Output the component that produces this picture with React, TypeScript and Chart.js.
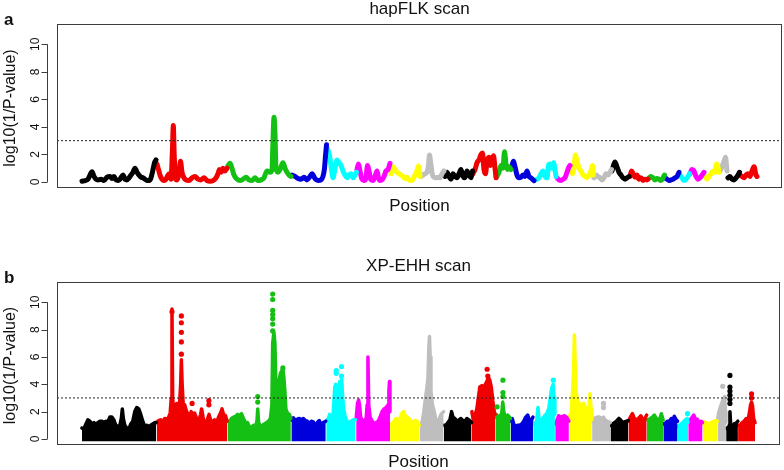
import React, { useEffect, useRef } from 'react';
import { Chart, registerables } from 'chart.js';

Chart.register(...registerables);

// Chromosome boundaries along the genome (position units), 26 autosomes
const chromBounds = [82, 157, 228, 292, 327, 357, 391, 420.5, 445, 473, 496.5, 512, 534.5, 556.5, 570.5, 593.5, 612, 630, 648.5, 665, 679.5, 690, 704.5, 719.5, 728, 740, 757];
const chromPalette = ['#000000', '#F00000', '#14C014', '#0000DD', '#00FFFF', '#FF00FF', '#FFFF00', '#BEBEBE'];
const yTicks = [0, 2, 4, 6, 8, 10];
const threshold = 3;
const xRange = [57, 782];
const yRange = [-0.44, 11.48];

// hapFLK scan: [position, log10(1/P)]
const hapflkPoints: [number, number][] = [
  [82, 0.05], [85, 0.1], [88, 0.2], [90, 0.5], [92, 0.75], [94, 0.4], [96, 0.2], [98, 0.15], [101, 0.2], [104, 0.1], [107, 0.35], [110, 0.4], [112, 0.25], [114, 0.4], [116, 0.15], [118, 0.1], [120, 0.2], [123, 0.5], [125, 0.2], [127, 0.15], [129, 0.3], [131, 0.5], [133, 0.7], [135, 1.0], [137, 0.7], [139, 0.5], [141, 0.35], [143, 0.3], [145, 0.2], [147, 0.1], [149, 0.1], [151, 0.3], [153, 0.9], [154.5, 1.4], [156, 1.6],
  [157, 1.3], [158.5, 0.9], [160, 0.5], [162, 0.2], [164, 0.1], [166, 0.2], [168, 0.5], [169.5, 0.6], [171, 0.2], [172.5, 2.5], [173.3, 4.1], [174.2, 2.0], [175.5, 0.2], [177, 0.15], [179, 0.6], [180.5, 1.5], [182, 0.7], [184, 0.3], [186, 0.15], [189, 0.1], [192, 0.3], [195, 0.4], [198, 0.2], [201, 0.15], [204, 0.3], [207, 0.1], [210, 0.05], [213, 0.1], [216, 0.3], [218, 0.6], [219.5, 0.9], [221, 0.7], [223, 1.0], [225, 0.8], [227, 1.0],
  [228, 1.2], [230, 1.35], [232, 1.0], [234, 0.5], [237, 0.2], [240, 0.1], [243, 0.2], [246, 0.35], [249, 0.15], [252, 0.1], [255, 0.3], [258, 0.1], [261, 0.15], [264, 0.3], [267, 0.8], [270, 0.7], [272, 0.9], [273, 3.0], [274, 4.7], [275, 3.5], [276, 1.0], [278, 0.7], [280, 0.9], [283, 1.4], [285, 1.0], [287, 0.7], [289, 0.5], [291, 0.4],
  [292, 0.5], [295, 0.4], [298, 0.25], [301, 0.2], [304, 0.35], [307, 0.15], [310, 0.4], [312, 0.6], [315, 0.25], [318, 0.1], [321, 0.15], [323, 0.4], [324.5, 1.0], [325.5, 1.9], [326.5, 2.7],
  [327, 2.5], [328.5, 2.2], [330, 1.7], [331.5, 0.9], [333, 0.3], [335, 1.0], [337, 1.6], [339, 1.4], [341, 1.2], [343, 0.8], [345, 0.5], [347, 0.3], [349, 0.5], [351, 0.6], [353, 0.3], [355, 0.5], [356.5, 0.7],
  [357, 0.9], [358.5, 1.3], [360, 0.8], [362, 0.2], [364, 0.1], [366, 0.3], [367.5, 1.2], [369, 0.8], [371, 0.15], [373, 0.1], [375, 0.4], [377, 0.8], [378.5, 0.3], [380, 0.1], [382, 0.15], [384, 0.4], [386, 0.8], [388, 0.9], [390, 1.35],
  [391, 0.6], [393, 1.1], [395, 0.9], [397, 0.7], [399, 0.6], [401, 0.5], [403, 0.4], [405, 0.25], [407, 0.35], [409, 0.15], [411, 0.1], [413, 0.2], [415, 0.5], [417, 0.8], [418.5, 1.15], [420, 0.4],
  [421, 0.4], [423, 0.5], [425, 0.6], [427, 0.7], [428.5, 1.2], [429.5, 1.95], [431, 1.2], [432.5, 0.5], [434, 0.35], [436, 0.3], [438, 0.35], [440, 0.3], [442, 0.6], [444, 0.8],
  [445, 0.4], [447, 0.7], [449, 0.4], [451, 0.2], [453, 0.6], [455, 0.4], [457, 0.3], [459, 0.6], [461, 0.9], [463, 0.4], [465, 0.3], [467, 0.8], [469, 0.5], [471, 0.3], [472.5, 0.8],
  [473, 0.6], [475, 0.9], [477, 1.4], [479, 1.6], [481, 2.0], [482.5, 2.1], [484, 0.9], [485.5, 0.6], [487, 1.5], [489, 1.8], [490.5, 1.2], [492, 1.6], [493.5, 1.9], [495, 1.0], [496, 0.3],
  [497, 0.4], [499, 0.7], [501, 1.2], [503, 1.0], [504.5, 2.2], [506, 1.3], [507.5, 0.9], [509, 1.1], [511, 0.9],
  [512, 1.2], [513.5, 1.5], [515, 1.1], [517, 0.5], [519, 0.3], [521, 0.35], [523, 0.5], [525, 0.4], [527, 0.8], [529, 0.4], [531, 0.3], [533, 0.15], [534, 0.1],
  [535, 0.15], [537, 0.2], [539, 0.3], [541, 0.6], [543, 0.8], [545, 0.4], [547, 0.3], [548.5, 1.2], [550, 1.3], [552, 1.0], [553.5, 1.4], [555, 0.9], [556, 0.4],
  [557, 0.3], [559, 0.15], [561, 0.1], [563, 0.2], [565, 0.3], [567, 0.7], [569, 1.1], [570, 1.2],
  [571, 0.9], [572.5, 0.6], [574, 1.1], [575.5, 1.95], [577, 1.5], [579, 1.0], [581, 0.8], [583, 0.5], [585, 0.4], [587, 0.3], [589, 0.5], [591, 0.8], [592.5, 1.2], [593.3, 0.5],
  [594, 0.3], [596, 0.5], [598, 0.4], [600, 0.3], [602, 0.15], [604, 0.3], [606, 0.6], [608, 0.5], [610, 0.7], [611.5, 0.9],
  [612, 0.8], [613.5, 1.2], [615, 1.45], [617, 1.1], [619, 0.7], [621, 0.5], [623, 0.3], [625, 0.2], [627, 0.3], [629, 0.4],
  [630, 0.4], [631.5, 0.8], [633, 0.6], [635, 0.35], [637, 0.5], [639, 0.2], [641, 0.3], [643, 0.1], [645, 0.2], [647, 0.15], [648, 0.2],
  [649, 0.3], [651, 0.4], [653, 0.3], [655, 0.15], [657, 0.25], [659, 0.2], [661, 0.1], [663, 0.3], [664.5, 0.5],
  [665, 0.3], [667, 0.2], [669, 0.1], [671, 0.15], [673, 0.2], [675, 0.3], [677, 0.4], [679, 0.7],
  [680, 0.5], [682, 0.3], [684, 0.1], [686, 0.2], [688, 0.4], [689.5, 0.6],
  [690, 0.6], [692, 0.9], [694, 0.8], [696, 0.4], [698, 0.2], [700, 0.3], [702, 0.5], [704, 0.7],
  [705, 0.4], [707, 0.2], [709, 0.4], [711, 0.6], [713, 0.8], [715, 0.7], [716.5, 1.3], [718, 1.1], [719, 0.7],
  [720, 0.8], [722, 1.1], [724, 1.5], [725.5, 1.8], [727, 0.8],
  [728, 0.3], [730, 0.4], [732, 0.2], [734, 0.15], [736, 0.3], [738, 0.5], [739.5, 0.7],
  [740, 0.5], [742, 0.4], [744, 0.3], [746, 0.5], [748, 0.6], [750, 0.4], [752, 0.8], [754, 1.1], [756, 0.5], [757, 0.4],
];

// XP-EHH scan: upper outline of the dense SNP cloud, [position, log10(1/P)]
const xpehhEnvelope: [number, number][] = [
  [82, 0.8], [84, 0.75], [86, 1.1], [88, 1.4], [90, 1.3], [92, 1.1], [94, 1.2], [96, 1.05], [98, 1.2], [100, 1.3], [102, 1.3], [104, 1.2], [106, 1.3], [108, 1.25], [110, 1.6], [112, 1.6], [114, 1.4], [116, 1.0], [118, 0.9], [120, 1.0], [121.5, 1.5], [122.5, 2.2], [123.5, 1.5], [125, 1.0], [127, 0.8], [129, 0.7], [131, 1.1], [133, 1.3], [135, 2.0], [137, 2.3], [139, 2.2], [141, 1.8], [143, 1.3], [145, 0.9], [147, 1.0], [149, 0.9], [151, 1.0], [153, 1.1], [155, 1.2], [156.5, 1.2],
  [157, 1.2], [159, 1.35], [161, 1.4], [163, 1.25], [165, 1.5], [167, 1.45], [169, 1.6], [170.5, 1.9], [171.6, 3.0], [172.3, 9.5], [173, 3.0], [174, 2.0], [175.5, 2.2], [177, 2.6], [178.5, 2.4], [180, 2.7], [181, 4.0], [181.7, 5.8], [182.5, 4.0], [183.5, 2.6], [185, 2.5], [187, 2.0], [188.5, 1.8], [190, 1.6], [191.5, 2.0], [193, 1.8], [195, 1.9], [197, 1.5], [199, 1.3], [201, 1.8], [202, 2.2], [203.5, 1.6], [205, 1.2], [207, 1.1], [208.5, 1.6], [209.5, 1.8], [211, 1.4], [213, 1.2], [215, 1.4], [217, 1.2], [219, 1.6], [221, 1.9], [222.5, 2.2], [224, 1.8], [226, 1.7], [227.5, 1.3],
  [228, 1.3], [230, 1.3], [232, 1.5], [234, 1.6], [236, 1.65], [238, 1.8], [240, 1.7], [242, 1.85], [244, 1.5], [246, 1.2], [248, 1.2], [250, 0.9], [252, 0.8], [254, 1.0], [256, 0.9], [257.5, 1.3], [258.3, 2.2], [259.2, 1.2], [261, 0.9], [263, 1.0], [265, 1.1], [267, 1.2], [269, 1.3], [271, 1.5], [272.5, 2.5], [273.3, 7.0], [274.5, 7.8], [275.5, 7.0], [276.5, 4.0], [278, 3.8], [279.5, 4.2], [281, 4.8], [282.5, 5.0], [283.5, 5.1], [284.5, 4.5], [285.5, 3.5], [286.5, 2.2], [288, 1.9], [290, 1.8], [291.5, 1.5],
  [292, 1.4], [294, 1.55], [296, 1.35], [298, 1.45], [300, 1.5], [302, 1.4], [304, 1.5], [306, 1.35], [308, 1.3], [310, 1.1], [312, 1.3], [314, 1.25], [316, 0.9], [318, 1.2], [320, 1.35], [322, 1.0], [324, 1.2], [326.5, 1.3],
  [327, 1.3], [329, 1.5], [330.5, 1.8], [332, 1.4], [333.5, 1.3], [334.5, 2.5], [335.5, 3.8], [336.5, 4.0], [337.5, 3.8], [339, 3.5], [340.5, 4.2], [341.5, 3.5], [342.5, 4.4], [343.5, 3.0], [344.5, 2.2], [346, 1.6], [348, 1.3], [350, 1.2], [352, 1.3], [354, 1.4], [356.5, 1.4],
  [357, 1.5], [358.3, 2.6], [359.5, 2.85], [360.5, 2.4], [361.5, 1.6], [363, 1.4], [365, 1.3], [367, 1.5], [368, 2.5], [368.8, 6.0], [369.6, 2.5], [371, 1.6], [373, 1.3], [375, 1.15], [377, 1.2], [379, 1.3], [381, 1.6], [383, 2.0], [385, 2.2], [387, 2.3], [389, 2.5], [389.8, 3.5], [390.4, 4.2], [390.9, 2.0],
  [391, 1.0], [393, 1.15], [395, 1.3], [397, 1.5], [399, 1.4], [401, 1.5], [403, 1.9], [404.5, 2.0], [406, 1.75], [408, 1.6], [410, 1.5], [412, 1.3], [414, 1.2], [416, 1.35], [418, 1.3], [420.3, 1.0],
  [421, 1.0], [423, 1.2], [424.5, 1.8], [425.5, 2.4], [426.7, 3.1], [428, 3.8], [429, 4.5], [429.8, 6.5], [430.5, 7.5], [431.2, 6.0], [432, 3.5], [433.5, 2.5], [435, 2.1], [437, 1.4], [438.5, 1.15], [440, 1.4], [442, 1.8], [444.7, 2.0],
  [445, 1.0], [447, 1.0], [449, 1.2], [451, 1.4], [452.7, 2.0], [454, 1.6], [456, 1.5], [458, 1.3], [460, 1.4], [462, 1.5], [464, 1.35], [466, 1.3], [468, 1.5], [470, 1.4], [472.7, 1.2],
  [473, 2.0], [474.5, 1.4], [476, 1.7], [478, 2.2], [479.5, 3.0], [481, 3.8], [483, 3.9], [485, 3.8], [486.5, 4.0], [488, 4.2], [489.5, 4.5], [491, 4.3], [492.5, 3.8], [494, 2.8], [495.5, 2.0], [496.3, 1.8],
  [496.6, 1.6], [497.5, 1.8], [499, 1.7], [501, 1.6], [503, 1.9], [504, 2.7], [505, 2.0], [507, 1.5], [509, 1.75], [511.8, 1.5],
  [512, 1.3], [513.5, 1.5], [515, 1.1], [517, 0.9], [519, 1.0], [521, 1.0], [523, 1.1], [525, 1.3], [527, 1.6], [529, 1.75], [531, 1.3], [533, 1.4], [534.3, 1.6],
  [534.6, 1.2], [536, 1.1], [538, 1.3], [539.3, 2.3], [540.5, 1.4], [542, 1.2], [544, 1.5], [546, 1.7], [548, 1.85], [550, 2.2], [551.5, 2.9], [553, 3.7], [554.5, 4.0], [555.5, 3.0], [556.3, 1.8],
  [556.6, 1.1], [558, 1.3], [560, 1.7], [562, 1.6], [564, 1.65], [566, 1.7], [568, 1.6], [570.3, 1.3],
  [570.6, 1.5], [572.5, 2.0], [574, 3.5], [575, 5.0], [575.8, 7.6], [576.6, 5.5], [577.5, 3.5], [579, 2.8], [581, 2.6], [583, 2.4], [585, 2.6], [587, 2.3], [589, 2.0], [590.5, 2.4], [591.5, 3.3], [592.5, 2.2], [593.3, 1.4],
  [593.6, 1.3], [595, 1.5], [597, 1.55], [599, 1.6], [601, 1.6], [603, 1.5], [605, 1.6], [607, 1.35], [609, 1.3], [611.8, 1.2],
  [612, 1.0], [614, 1.1], [616, 1.2], [618, 1.3], [620.5, 1.5], [622, 1.4], [624, 1.2], [626, 1.25], [628, 1.3], [629.8, 1.35],
  [630, 1.3], [632, 1.6], [634, 1.85], [636, 1.5], [638, 1.4], [640, 1.5], [642.5, 1.7], [644, 1.5], [646, 1.4], [648.3, 1.75],
  [648.6, 1.4], [650, 1.4], [652, 1.5], [654, 1.6], [656, 1.75], [658, 1.5], [660, 1.35], [662, 1.6], [663, 1.85], [664.8, 1.4],
  [665, 1.1], [667, 1.15], [669, 1.3], [671, 1.3], [673, 1.5], [675, 1.45], [676, 1.65], [678, 1.4], [679.3, 1.3],
  [679.6, 0.9], [681, 1.0], [683, 1.1], [685, 1.25], [687, 1.4], [689, 1.5], [689.8, 1.2],
  [690, 1.2], [692, 1.4], [694, 1.6], [695.5, 1.75], [697, 1.5], [699, 1.45], [701, 1.2], [703, 1.3], [704.3, 1.2],
  [704.6, 1.1], [706, 1.25], [708, 1.2], [710, 1.1], [712, 1.15], [714, 1.25], [716, 1.3], [718, 1.35], [719.3, 1.3],
  [719.6, 1.5], [720.5, 1.9], [722, 2.3], [723.5, 2.6], [725, 2.9], [726.5, 3.1], [727.3, 2.0], [727.8, 1.2],
  [728, 0.8], [730, 0.7], [731, 1.0], [731.8, 2.0], [732.6, 1.0], [734, 0.8], [736, 1.1], [738, 1.15], [739.8, 1.3],
  [740, 1.0], [742, 1.0], [744, 1.2], [746, 1.3], [748, 1.5], [750, 1.4], [751.5, 2.0], [752.5, 2.5], [753.5, 2.7], [754.5, 2.4], [755.5, 1.5], [757, 1.2],
];

// XP-EHH: isolated SNPs standing above the cloud
const xpehhDots: [number, number][] = [
  [172.3, 9.3], [181.7, 9.0], [181.7, 8.5], [181.7, 7.8], [181.7, 7.1], [181.7, 6.2], [192.5, 2.6], [209.3, 2.8], [209.3, 2.5],
  [258.3, 3.1], [258.3, 2.7], [273.3, 10.6], [273.3, 10.2], [273.3, 9.4], [273.3, 9.1], [273.3, 8.8], [273.3, 8.4], [273.3, 7.9], [283.5, 5.2],
  [337, 5.0], [337, 4.8], [342.3, 5.3], [342.3, 4.6], [488.3, 5.1], [489, 4.6], [498.3, 2.35], [504.2, 4.3], [504.2, 3.4], [504.2, 3.1],
  [554.7, 4.3], [605, 2.6], [605, 2.3], [689.3, 1.85], [724.5, 3.85],
  [731.8, 4.65], [731.8, 3.8], [731.8, 3.5], [731.8, 3.2], [731.8, 2.9], [731.8, 2.6], [753.5, 3.3], [753.5, 3.0],
];

const FONT = '"Liberation Sans", Arial, Helvetica, sans-serif';

function chromOf(pos: number): number {
  for (let i = chromBounds.length - 2; i >= 0; i--) if (pos >= chromBounds[i]) return i;
  return 0;
}
function colorOf(i: number): string {
  return chromPalette[i % chromPalette.length];
}
function splitByChrom(points: [number, number][]) {
  const out: { x: number; y: number }[][] = Array.from({ length: chromBounds.length - 1 }, () => []);
  points.forEach(([x, y]) => out[chromOf(x)].push({ x, y }));
  return out;
}

type Decor = { title: string; titleY: number; letter: string; letterY: number; xLabelY: number };

function decorPlugin(d: Decor) {
  return {
    id: 'rDecor',
    afterDraw(chart: any) {
      const { ctx, chartArea: ca, scales } = chart;
      const y = scales.y;
      ctx.save();
      // frame
      ctx.strokeStyle = '#3c3c3c';
      ctx.lineWidth = 1;
      ctx.strokeRect(Math.round(ca.left) + 0.5, Math.round(ca.top) + 0.5, Math.round(ca.right - ca.left) - 1, Math.round(ca.bottom - ca.top) - 1);
      // y axis (R style)
      const ax = Math.round(ca.left) - 10 + 0.5;
      ctx.beginPath();
      ctx.moveTo(ax, y.getPixelForValue(yTicks[0]));
      ctx.lineTo(ax, y.getPixelForValue(yTicks[yTicks.length - 1]));
      yTicks.forEach((t) => {
        const py = Math.round(y.getPixelForValue(t)) + 0.5;
        ctx.moveTo(ax, py);
        ctx.lineTo(ax - 6, py);
      });
      ctx.stroke();
      ctx.fillStyle = '#111';
      ctx.textAlign = 'center';
      ctx.textBaseline = 'middle';
      ctx.font = `12px ${FONT}`;
      yTicks.forEach((t) => {
        ctx.save();
        ctx.translate(ax - 12, y.getPixelForValue(t));
        ctx.rotate(-Math.PI / 2);
        ctx.fillText(String(t), 0, 0);
        ctx.restore();
      });
      // y title
      ctx.save();
      ctx.font = `16px ${FONT}`;
      ctx.translate(11, (ca.top + ca.bottom) / 2 + 2);
      ctx.rotate(-Math.PI / 2);
      ctx.fillText('log10(1/P-value)', 0, 0);
      ctx.restore();
      // x title
      ctx.font = `17px ${FONT}`;
      ctx.fillText('Position', (ca.left + ca.right) / 2, d.xLabelY);
      // main title
      ctx.fillText(d.title, (ca.left + ca.right) / 2, d.titleY);
      // panel letter
      ctx.font = `bold 17px ${FONT}`;
      ctx.textAlign = 'left';
      ctx.textBaseline = 'alphabetic';
      ctx.fillText(d.letter, 4, d.letterY);
      ctx.restore();
    },
  };
}

function thresholdDataset() {
  return {
    data: [{ x: xRange[0], y: threshold }, { x: xRange[1], y: threshold }],
    borderColor: '#222',
    borderWidth: 1,
    borderDash: [2, 2],
    pointRadius: 0,
    fill: false,
    order: -2,
  };
}

function commonOptions(padTop: number, padBottom: number) {
  return {
    responsive: false,
    animation: false as const,
    events: [] as any[],
    layout: { padding: { left: 57, right: 2, top: padTop, bottom: padBottom } },
    plugins: { legend: { display: false }, tooltip: { enabled: false }, title: { display: false } },
    scales: {
      x: { type: 'linear' as const, min: xRange[0], max: xRange[1], display: false },
      y: { type: 'linear' as const, min: yRange[0], max: yRange[1], display: false },
    },
  };
}

function hapflkConfig(): any {
  const byChrom = splitByChrom(hapflkPoints);
  const datasets: any[] = byChrom.map((pts, i) => ({
    data: pts,
    borderColor: colorOf(i),
    borderWidth: 5,
    borderCapStyle: 'round',
    borderJoinStyle: 'round',
    pointRadius: 0,
    cubicInterpolationMode: 'monotone',
    fill: false,
  }));
  datasets.push(thresholdDataset());
  return {
    type: 'line',
    data: { datasets },
    options: commonOptions(24, 47),
    plugins: [decorPlugin({ title: 'hapFLK scan', titleY: 9, letter: 'a', letterY: 25, xLabelY: 206 })],
  };
}

function xpehhConfig(): any {
  const byChrom = splitByChrom(xpehhEnvelope);
  const datasets: any[] = byChrom.map((pts, i) => ({
    data: pts,
    borderColor: colorOf(i),
    backgroundColor: colorOf(i),
    borderWidth: 3.5,
    borderJoinStyle: 'round',
    borderCapStyle: 'round',
    pointRadius: 0,
    tension: 0,
    fill: { value: -0.17 },
  }));
  datasets.push({
    data: xpehhDots.map(([x, y]) => ({ x, y })),
    showLine: false,
    pointRadius: 2.6,
    pointBorderWidth: 0,
    pointBackgroundColor: xpehhDots.map(([x]) => colorOf(chromOf(x))),
    order: -1,
  });
  datasets.push(thresholdDataset());
  return {
    type: 'line',
    data: { datasets },
    options: commonOptions(47, 25),
    plugins: [decorPlugin({ title: 'XP-EHH scan', titleY: 31, letter: 'b', letterY: 48, xLabelY: 227 })],
  };
}

export default function App() {
  const refA = useRef<HTMLCanvasElement>(null);
  const refB = useRef<HTMLCanvasElement>(null);
  useEffect(() => {
    const a = new Chart(refA.current as HTMLCanvasElement, hapflkConfig());
    const b = new Chart(refB.current as HTMLCanvasElement, xpehhConfig());
    return () => {
      a.destroy();
      b.destroy();
    };
  }, []);
  return (
    <div style={{ position: 'fixed', left: 0, top: 0, width: 784, height: 470, background: '#fff' }}>
      <canvas ref={refA} width={784} height={235} style={{ position: 'absolute', left: 0, top: 0 }} />
      <canvas ref={refB} width={784} height={235} style={{ position: 'absolute', left: 0, top: 235 }} />
    </div>
  );
}
